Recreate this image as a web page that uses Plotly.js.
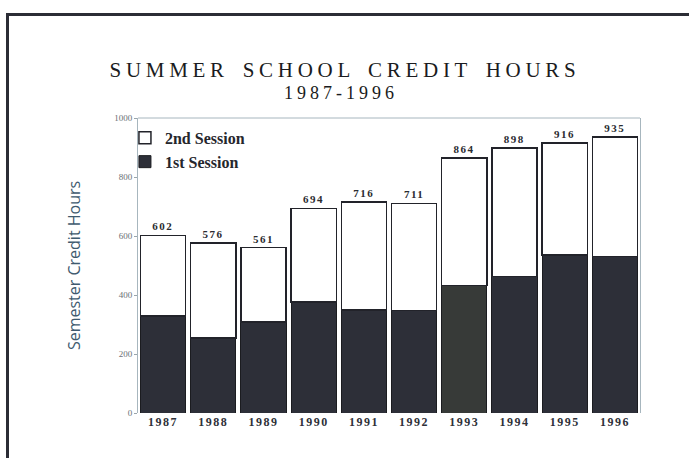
<!DOCTYPE html>
<html><head><meta charset="utf-8">
<script src="https://cdn.plot.ly/plotly-3.0.1.min.js"></script>
<style>
html,body{margin:0;padding:0;background:#fff;}
#wrap{position:relative;width:689px;height:458px;overflow:hidden;}
#chart{width:689px;height:458px;}
#frame{position:absolute;left:6px;top:13px;right:-5px;bottom:-5px;border-left:3px solid #2b2d35;border-top:3px solid #2b2d35;pointer-events:none;}
#chart .gtitle{letter-spacing:4.7px;word-spacing:4px;}
#chart .annotation-text{letter-spacing:4px;}
#chart .xtick text{letter-spacing:1.5px;}
#chart .bartext{letter-spacing:1.5px;}
</style></head>
<body><div id="wrap"><div id="chart"></div><div id="frame"></div></div>
<script>
const years = ['1987','1988','1989','1990','1991','1992','1993','1994','1995','1996'];
const firstSession = [328, 254, 308, 376, 350, 348, 432, 463, 536, 530];
const secondSession = [274, 322, 253, 318, 366, 363, 432, 435, 380, 405];
const totalLabels = ['602','576','561','694','716','711','864','898','916','935'];
const yTicks = [0, 200, 400, 600, 800, 1000];

const darkColors = years.map(y => y === '1993' ? '#373a38' : '#2d2f38');

const traces = [
  {
    type: 'bar', name: '1st Session', x: years, y: firstSession,
    marker: {color: darkColors, line: {color: '#1b1c20', width: 1}},
    hoverinfo: 'skip'
  },
  {
    type: 'bar', name: '2nd Session', x: years, y: secondSession,
    marker: {color: '#ffffff', line: {color: '#22232a', width: 1.5}},
    text: totalLabels, textposition: 'outside', cliponaxis: false,
    textfont: {family: 'Liberation Serif', size: 11, color: '#2a2b30', weight: 'bold'},
    hoverinfo: 'skip'
  }
];

const layout = {
  width: 689, height: 458,
  margin: {l: 138, r: 49, t: 118, b: 45},
  paper_bgcolor: '#ffffff', plot_bgcolor: '#ffffff',
  barmode: 'stack', bargap: 0.1,
  showlegend: true,
  title: {
    text: 'SUMMER SCHOOL CREDIT HOURS',
    font: {family: 'Liberation Serif', size: 21, color: '#1a1b20'},
    x: 0.5007, xanchor: 'center', y: 0.847, yanchor: 'middle', yref: 'container'
  },
  annotations: [{
    text: '1987-1996', xref: 'paper', yref: 'paper', x: 0.404, y: 1.0864,
    xanchor: 'center', yanchor: 'middle', showarrow: false,
    font: {family: 'Liberation Serif', size: 18, color: '#1a1b20'}
  }],
  legend: {
    x: -0.026, y: 0.99, xanchor: 'left', yanchor: 'top',
    bgcolor: 'rgba(0,0,0,0)', traceorder: 'reversed',
    font: {family: 'Liberation Serif', size: 16, color: '#25262c', weight: 'bold'}
  },
  xaxis: {
    type: 'category', showgrid: false, zeroline: false, showline: false,
    ticks: '', tickfont: {family: 'Liberation Serif', size: 12, color: '#2e3038', weight: 'bold'}
  },
  yaxis: {
    range: [0, 1000], tickvals: yTicks, ticktext: yTicks.map(String),
    showgrid: false, zeroline: false, showline: true, mirror: true,
    linecolor: '#a7b6be', linewidth: 1,
    ticks: 'outside', ticklen: 3, tickcolor: '#9aa5ab',
    tickfont: {family: 'Liberation Serif', size: 9, color: '#6b6f75'},
    title: {text: 'Semester Credit Hours', standoff: 29,
      font: {family: 'Open Sans', size: 16, color: '#3e5a6e'}}
  },
  shapes: [{
    type: 'line', xref: 'paper', yref: 'paper', x0: 0, x1: 1, y0: 1, y1: 1,
    line: {color: '#a7b6be', width: 1}
  }]
};

Plotly.newPlot('chart', traces, layout, {displayModeBar: false, staticPlot: true});
</script>
</body></html>
